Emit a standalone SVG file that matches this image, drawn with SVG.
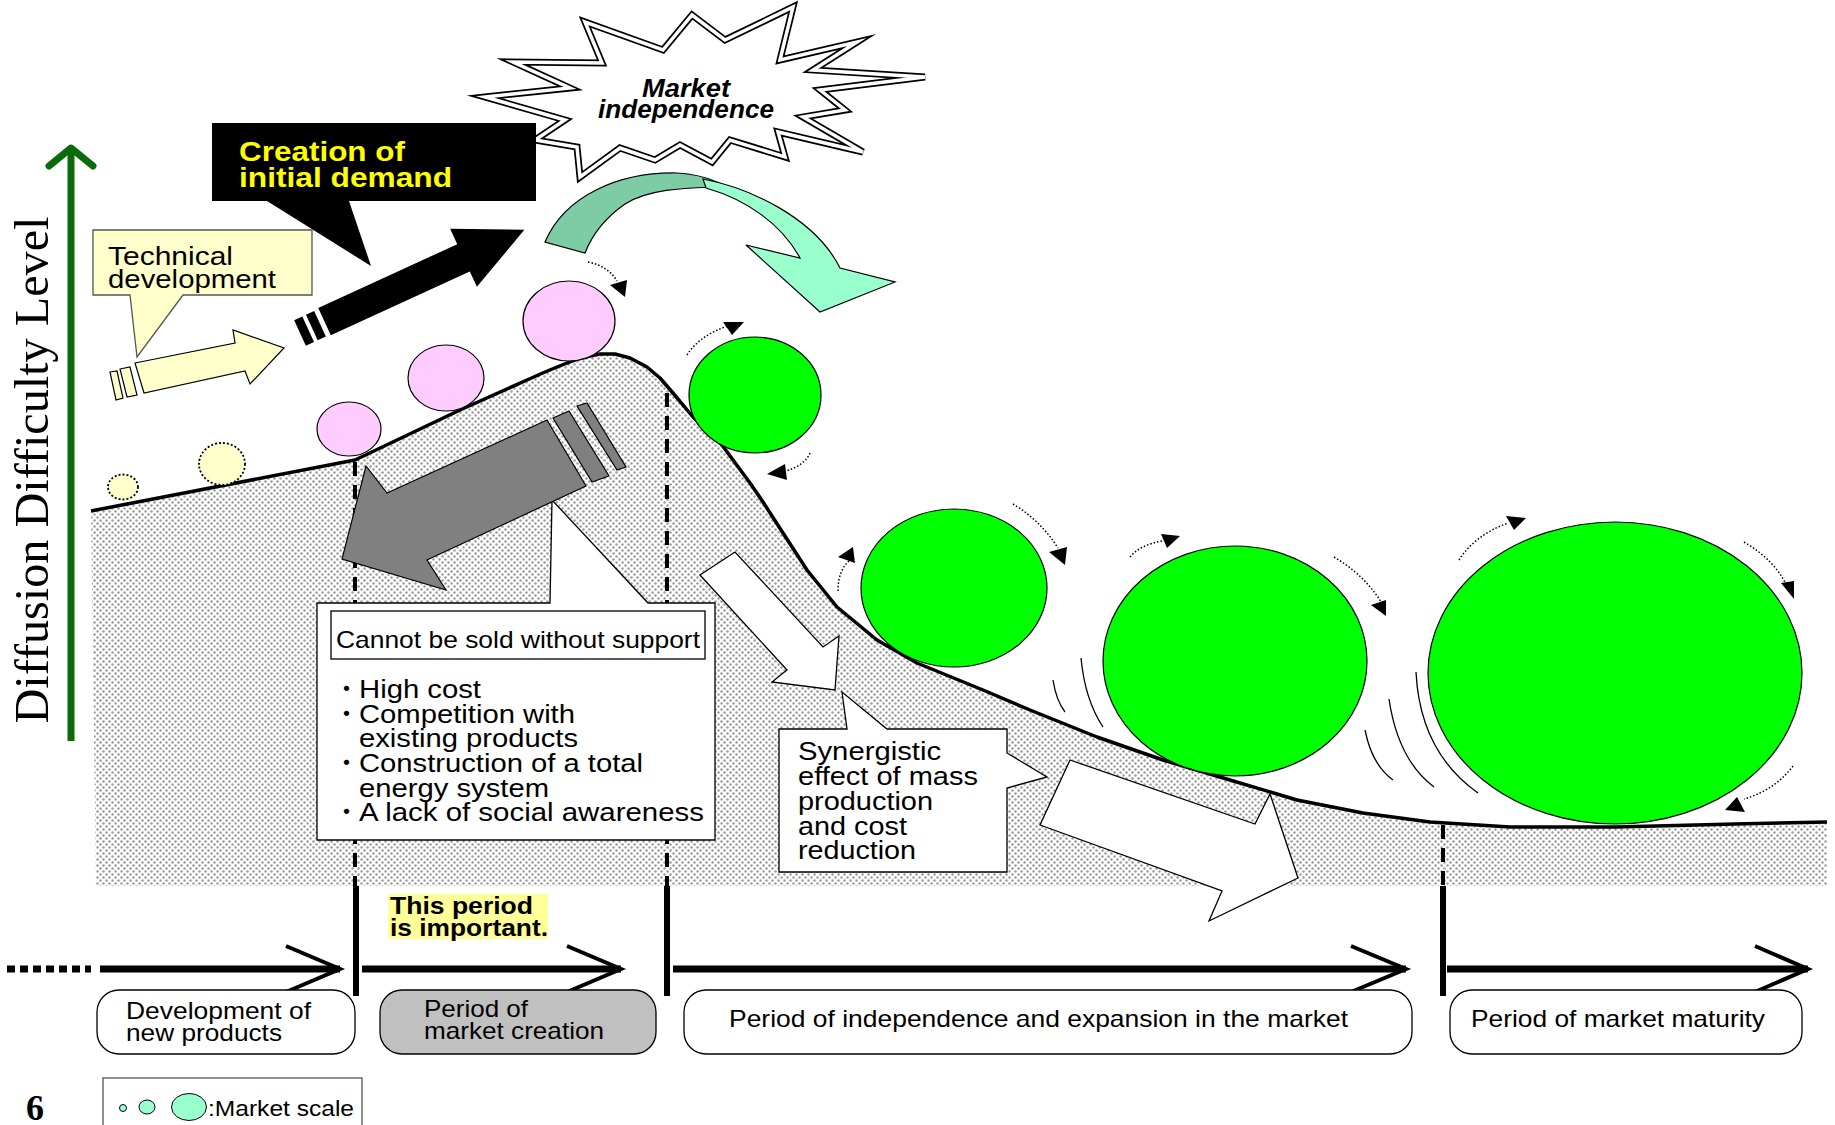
<svg xmlns="http://www.w3.org/2000/svg" width="1835" height="1125" viewBox="0 0 1835 1125">
<defs>
<style>
.t{font-family:"Liberation Sans",Arial,sans-serif;fill:#000}
.b{font-weight:bold}
.box{fill:#fff;stroke:#000;stroke-width:1.3}
.gc{fill:#00ff00;stroke:#000;stroke-width:1.2}
.pc{fill:#ffccff;stroke:#000;stroke-width:1.2}
.yc{fill:#ffffcc;stroke:#000;stroke-width:1.8;stroke-dasharray:2 2}
.dot{fill:none;stroke:#000;stroke-width:1.5;stroke-dasharray:1.5 2}
.mo{fill:none;stroke:#000;stroke-width:1.3}
.dash{stroke:#000;stroke-width:4;stroke-dasharray:14 9;fill:none}
.solid{stroke:#000;stroke-width:6;fill:none}
.tl{stroke:#000;stroke-width:7;fill:none}
.chev{stroke:#000;stroke-width:4;fill:none}
.phase{fill:#fff;stroke:#000;stroke-width:1.3}
.warr{fill:#fff;stroke:#000;stroke-width:1.3}
.bul{font-family:"Noto Sans CJK JP",sans-serif}
.burstA{fill:#fff;stroke:#000;stroke-width:7;stroke-linejoin:miter;stroke-miterlimit:6}
.burstB{fill:none;stroke:#fff;stroke-width:3.5;stroke-linejoin:miter;stroke-miterlimit:6}
</style>
<pattern id="dots" width="6" height="6" patternUnits="userSpaceOnUse">
<rect width="6" height="6" fill="#fff"/>
<circle cx="1.5" cy="1.5" r="1.25" fill="#9a9a9a"/>
<circle cx="4.5" cy="4.5" r="1.25" fill="#9a9a9a"/>
</pattern>
</defs>

<g id="hill">
<polygon fill="url(#dots)" points="91,511 355,460 460,410 527,380 545,372 562,365 580,358 600,354 615,354 630,358 647,367 660,378 673,393 693,417 722,445 750,483 763,502 783,533 807,570 837,607 877,640 917,663 983,690 1030,710 1097,737 1163,760 1230,780 1297,800 1363,813 1430,822 1510,827 1616,827 1735,824 1827,822 1827,886 96,886"/>
</g>

<g id="dividers">
<line class="dash" x1="355" y1="462" x2="355" y2="886"/>
<line class="dash" x1="667" y1="393" x2="667" y2="886"/>
<line class="dash" x1="1443" y1="825" x2="1443" y2="886"/>
<line class="solid" x1="356" y1="886" x2="356" y2="996"/>
<line class="solid" x1="667" y1="886" x2="667" y2="996"/>
<line class="solid" x1="1443" y1="886" x2="1443" y2="996"/>
</g>

<g id="white-arrows">
<polygon class="warr" points="700,575 735,552 823,647 839,636 835,690 772,682 787,670"/>
<polygon class="warr" points="1070,760 1255,824 1270,794 1298,878 1209,921 1222,891 1040,825"/>
</g>

<g id="cannot-box">
<path class="box" d="M317,603 L550,603 L552,500 L648,603 L715,603 L715,840 L317,840 Z"/>
<rect x="331" y="611" width="374" height="48" fill="#fff" stroke="#000" stroke-width="1.3"/>
<text class="t" x="336" y="648" font-size="24" textLength="364" lengthAdjust="spacingAndGlyphs">Cannot be sold without support</text>
<g class="t" font-size="25">
<text x="334" y="698"><tspan class="bul">・</tspan><tspan x="359" textLength="122" lengthAdjust="spacingAndGlyphs">High cost</tspan></text>
<text x="334" y="723"><tspan class="bul">・</tspan><tspan x="359" textLength="216" lengthAdjust="spacingAndGlyphs">Competition with</tspan></text>
<text x="359" y="747" textLength="219" lengthAdjust="spacingAndGlyphs">existing products</text>
<text x="334" y="772"><tspan class="bul">・</tspan><tspan x="359" textLength="284" lengthAdjust="spacingAndGlyphs">Construction of a total</tspan></text>
<text x="359" y="797" textLength="190" lengthAdjust="spacingAndGlyphs">energy system</text>
<text x="334" y="821"><tspan class="bul">・</tspan><tspan x="359" textLength="345" lengthAdjust="spacingAndGlyphs">A lack of social awareness</tspan></text>
</g>
</g>

<g id="synergy-box">
<path class="box" d="M779,729 L847,729 L842,692 L887,729 L1007,729 L1007,753 L1047,777 L1007,788 L1007,872 L779,872 Z"/>
<g class="t" font-size="26">
<text x="798" y="760" textLength="143" lengthAdjust="spacingAndGlyphs">Synergistic</text>
<text x="798" y="785" textLength="180" lengthAdjust="spacingAndGlyphs">effect of mass</text>
<text x="798" y="810" textLength="135" lengthAdjust="spacingAndGlyphs">production</text>
<text x="798" y="835" textLength="109" lengthAdjust="spacingAndGlyphs">and cost</text>
<text x="798" y="859" textLength="118" lengthAdjust="spacingAndGlyphs">reduction</text>
</g>
</g>

<g id="gray-arrow" fill="#808080" stroke="#000" stroke-width="1.2">
<polygon points="547,420 387,493 366,466 342,559 446,590 427,560 586,486"/>
<polygon points="553,418 569,411 609,476 592,482"/>
<polygon points="577,406 587,403 626,467 617,470"/>
</g>

<g id="hill-line">
<polyline fill="none" stroke="#000" stroke-width="3.5" stroke-linejoin="round" points="91,511 355,460 460,410 527,380 545,372 562,365 580,358 600,354 615,354 630,358 647,367 660,378 673,393 693,417 722,445 750,483 763,502 783,533 807,570 837,607 877,640 917,663 983,690 1030,710 1097,737 1163,760 1230,780 1297,800 1363,813 1430,822 1510,827 1616,827 1735,824 1827,822"/>
</g>

<g id="balls">
<ellipse class="yc" cx="123" cy="487" rx="15" ry="12.5"/>
<ellipse class="yc" cx="222" cy="464" rx="23" ry="21"/>
<ellipse class="pc" cx="349" cy="429" rx="32" ry="27"/>
<ellipse class="pc" cx="446" cy="378" rx="38" ry="33"/>
<ellipse class="pc" cx="569" cy="321" rx="46" ry="40"/>
<ellipse class="gc" cx="755" cy="395" rx="66" ry="58"/>
<ellipse class="gc" cx="954" cy="588" rx="93" ry="79"/>
<ellipse class="gc" cx="1235" cy="661" rx="132" ry="115"/>
<ellipse class="gc" cx="1615" cy="673" rx="187" ry="151"/>
</g>

<g id="rotation-marks">
<path class="dot" d="M588,262 Q608,266 617,281"/>
<polygon points="610,285 627,280 625,297"/>
<path class="dot" d="M687,355 Q700,335 728,326"/>
<polygon points="723,322 744,322 732,335"/>
<path class="dot" d="M810,453 Q805,465 786,471"/>
<polygon points="767,474 785,464 787,480"/>
<path class="dot" d="M838,591 Q838,570 850,560"/>
<polygon points="838,557 853,547 855,563"/>
<path class="dot" d="M1013,504 Q1040,520 1058,548"/>
<polygon points="1049,552 1067,547 1065,565"/>
<path class="dot" d="M1130,557 Q1140,545 1162,541"/>
<polygon points="1161,534 1180,536 1167,548"/>
<path class="dot" d="M1334,557 Q1365,575 1383,605"/>
<polygon points="1371,605 1386,600 1386,616"/>
<path class="dot" d="M1459,560 Q1475,535 1508,523"/>
<polygon points="1506,516 1526,518 1514,530"/>
<path class="dot" d="M1744,542 Q1775,560 1788,588"/>
<polygon points="1781,583 1794,581 1794,599"/>
<path class="dot" d="M1793,766 Q1775,790 1744,799"/>
<polygon points="1725,810 1737,797 1745,812"/>
<path class="mo" d="M1053,680 Q1056,700 1065,712"/>
<path class="mo" d="M1081,658 Q1085,700 1103,727"/>
<path class="mo" d="M1365,730 Q1372,765 1393,780"/>
<path class="mo" d="M1389,699 Q1398,760 1434,787"/>
<path class="mo" d="M1416,672 Q1420,752 1478,793"/>
</g>

<g id="tech-dev">
<path d="M93,230 L312,230 L312,295 L183,295 L137,357 L130,295 L93,295 Z" fill="#ffffcc" stroke="#555" stroke-width="1.3"/>
<text class="t" x="108" y="265" font-size="26" textLength="125" lengthAdjust="spacingAndGlyphs">Technical</text>
<text class="t" x="108" y="288" font-size="26" textLength="168" lengthAdjust="spacingAndGlyphs">development</text>
<g fill="#ffffcc" stroke="#000" stroke-width="1.2">
<polygon points="110,372 117,371 123,398 116,400"/>
<polygon points="120,369 130,367 137,395 127,397"/>
<polygon points="135,363 235,343 233,330 284,348 250,384 245,371 144,393"/>
</g>
</g>

<g id="black-arrow" transform="translate(300,333) rotate(-24.7)" fill="#000">
<rect x="0" y="-14" width="9" height="28"/>
<rect x="13" y="-14" width="9" height="28"/>
<polygon points="27,-15 180,-15 180,-32 247,0 180,32 180,15 27,15"/>
</g>

<g id="market-independence">
<polygon class="burstA" points="485,97 570,88 513,62 602,63 585,22 663,50 692,15 725,40 793,7 780,60 857,42 813,70 925,77 820,90 845,110 803,117 863,152 778,132 785,157 730,140 712,162 680,145 655,160 620,148 580,177 577,147 535,140 565,120"/>
<polygon class="burstB" points="485,97 570,88 513,62 602,63 585,22 663,50 692,15 725,40 793,7 780,60 857,42 813,70 925,77 820,90 845,110 803,117 863,152 778,132 785,157 730,140 712,162 680,145 655,160 620,148 580,177 577,147 535,140 565,120"/>
<text class="t b" x="686" y="97" font-size="26" font-style="italic" text-anchor="middle" textLength="88" lengthAdjust="spacingAndGlyphs">Market</text>
<text class="t b" x="686" y="118" font-size="25" font-style="italic" text-anchor="middle" textLength="176" lengthAdjust="spacingAndGlyphs">independence</text>
</g>

<g id="initial-demand">
<path d="M212,123 L536,123 L536,201 L349,201 L371,266 L267,201 L212,201 Z" fill="#000"/>
<text class="t b" x="239" y="161" font-size="28" style="fill:#ffff00" textLength="166" lengthAdjust="spacingAndGlyphs">Creation of</text>
<text class="t b" x="239" y="187" font-size="28" style="fill:#ffff00" textLength="213" lengthAdjust="spacingAndGlyphs">initial demand</text>
</g>

<g id="curved-arrow" stroke="#000" stroke-width="1.2">
<path d="M545,242 C565,195 620,172 677,173 C695,174 708,178 717,182 L717,187 C690,188 650,188 625,204 C605,218 592,235 585,253 Z" fill="#7dcca6"/>
<path d="M703,179 C750,188 815,218 840,268 L895,282 L820,312 L746,245 L800,258 C782,225 748,200 706,188 Z" fill="#99ffcc"/>
</g>

<g id="connectors">
<line class="tl" x1="7" y1="969" x2="91" y2="969" stroke-dasharray="8 5"/>
<line class="tl" x1="100" y1="969" x2="340" y2="969"/>
<polyline class="chev" points="286,946 340,969 286,992"/>
<line class="tl" x1="362" y1="969" x2="621" y2="969"/>
<polyline class="chev" points="567,946 621,969 567,992"/>
<line class="tl" x1="673" y1="969" x2="1406" y2="969"/>
<polyline class="chev" points="1351,946 1406,969 1351,992"/>
<line class="tl" x1="1447" y1="969" x2="1808" y2="969"/>
<polyline class="chev" points="1755,946 1808,969 1755,992"/>
<line x1="71" y1="741" x2="71" y2="150" stroke="#0a6b0a" stroke-width="7"/>
<polyline points="49,166 71,148 93,166" fill="none" stroke="#0a6b0a" stroke-width="7" stroke-linecap="round" stroke-linejoin="round"/>
</g>

<g id="phase-dev">
<rect class="phase" x="97" y="990" width="258" height="64" rx="22"/>
<text class="t" x="126" y="1019" font-size="24" textLength="185" lengthAdjust="spacingAndGlyphs">Development of</text>
<text class="t" x="126" y="1041" font-size="24" textLength="156" lengthAdjust="spacingAndGlyphs">new products</text>
</g>
<g id="phase-creation">
<rect x="380" y="990" width="276" height="64" rx="22" fill="#c0c0c0" stroke="#000" stroke-width="1.3"/>
<text class="t" x="424" y="1017" font-size="24" textLength="104" lengthAdjust="spacingAndGlyphs">Period of</text>
<text class="t" x="424" y="1039" font-size="24" textLength="180" lengthAdjust="spacingAndGlyphs">market creation</text>
</g>
<g id="phase-expansion">
<rect class="phase" x="684" y="990" width="728" height="64" rx="22"/>
<text class="t" x="729" y="1027" font-size="24" textLength="619" lengthAdjust="spacingAndGlyphs">Period of independence and expansion in the market</text>
</g>
<g id="phase-maturity">
<rect class="phase" x="1450" y="990" width="352" height="64" rx="22"/>
<text class="t" x="1471" y="1027" font-size="24" textLength="294" lengthAdjust="spacingAndGlyphs">Period of market maturity</text>
</g>

<g id="important">
<rect x="388" y="894" width="160" height="45" fill="#ffff99"/>
<text class="t b" x="390" y="914" font-size="24" textLength="143" lengthAdjust="spacingAndGlyphs">This period</text>
<text class="t b" x="390" y="936" font-size="24" textLength="158" lengthAdjust="spacingAndGlyphs">is important.</text>
</g>

<g id="axis-label">
<text transform="translate(48,470) rotate(-90)" text-anchor="middle" font-family="'Liberation Serif','Times New Roman',serif" font-size="48" textLength="507" lengthAdjust="spacingAndGlyphs">Diffusion Difficulty Level</text>
</g>

<g id="legend">
<rect x="103" y="1078" width="259" height="60" fill="#fff" stroke="#555" stroke-width="1.3"/>
<ellipse cx="123" cy="1108" rx="3.5" ry="3.5" fill="#99ffcc" stroke="#000" stroke-width="1"/>
<ellipse cx="147" cy="1107" rx="8" ry="7" fill="#99ffcc" stroke="#000" stroke-width="1"/>
<ellipse cx="189" cy="1107" rx="17.5" ry="13.5" fill="#99ffcc" stroke="#000" stroke-width="1"/>
<text class="t" x="208" y="1116" font-size="22" textLength="146" lengthAdjust="spacingAndGlyphs">:Market scale</text>
</g>

<g id="page-number">
<text x="26" y="1120" font-family="'Liberation Serif','Times New Roman',serif" font-weight="bold" font-size="36">6</text>
</g>
</svg>
